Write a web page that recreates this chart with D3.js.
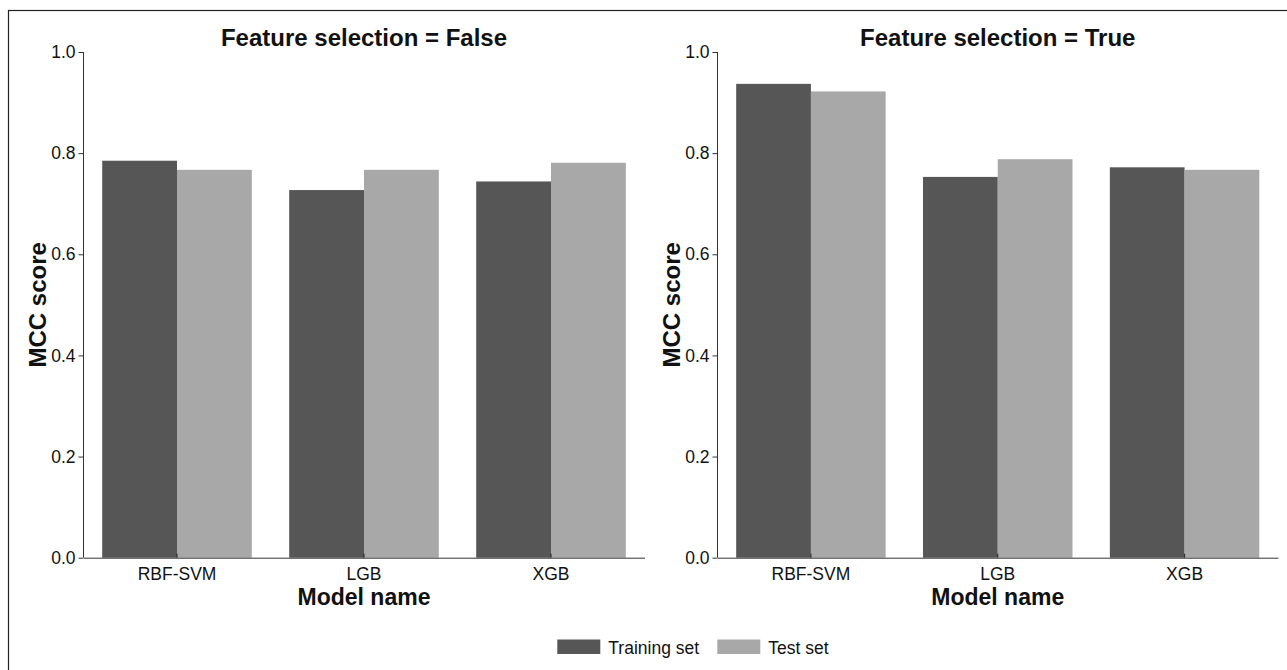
<!DOCTYPE html>
<html><head><meta charset="utf-8">
<script src="https://cdn.jsdelivr.net/npm/d3@7"></script>
<style>body{margin:0;background:#fff;} svg{display:block;} text{font-family:"Liberation Sans",Arial,sans-serif;}</style>
</head><body><svg id="c" width="1287" height="670"></svg>
<script>
const models = ["RBF-SVM", "LGB", "XGB"];
const seriesNames = ["Training set", "Test set"];
const seriesColors = ["#565656", "#a8a8a8"];
const panelTitles = ["Feature selection = False", "Feature selection = True"];
const trainFalse = [0.785, 0.727, 0.744];
const testFalse  = [0.767, 0.767, 0.781];
const trainTrue  = [0.937, 0.753, 0.772];
const testTrue   = [0.922, 0.788, 0.767];
const yTicks = [0.0, 0.2, 0.4, 0.6, 0.8, 1.0];

const panels = [
  {title: panelTitles[0], values: [trainFalse, testFalse], x0: 83.5, x1: 644.5},
  {title: panelTitles[1], values: [trainTrue, testTrue], x0: 717.5, x1: 1278}
];

const svg = d3.select("#c");
svg.append("rect").attr("x", 8.5).attr("y", 10.5).attr("width", 1300).attr("height", 700)
  .attr("fill", "none").attr("stroke", "#222").attr("stroke-width", 1.2);

const yTop = 52, yBot = 557.7;
const y = d3.scaleLinear().domain([0, 1]).range([yBot, yTop]);

panels.forEach(p => {
  const g = svg.append("g");
  const x = d3.scaleBand().domain(models).range([p.x0, p.x1]).paddingInner(0.2).paddingOuter(0.1);
  const xs = d3.scaleBand().domain(seriesNames).range([0, x.bandwidth()]);

  seriesNames.forEach((s, si) => {
    g.append("g").selectAll("rect").data(models).join("rect")
      .attr("x", d => x(d) + xs(s))
      .attr("y", (d, i) => y(p.values[si][i]))
      .attr("width", xs.bandwidth())
      .attr("height", (d, i) => y(0) - y(p.values[si][i]))
      .attr("fill", seriesColors[si]);
  });

  const ya = g.append("g").attr("transform", `translate(${p.x0},0)`)
    .call(d3.axisLeft(y).tickValues(yTicks).tickFormat(d3.format(".1f")).tickSize(5).tickPadding(3));
  ya.select(".domain").attr("stroke", "#333").attr("d", `M0,${yTop}V${yBot}`);
  ya.selectAll(".tick line").attr("stroke", "#333");
  ya.selectAll(".tick text").attr("font-size", 17.5).attr("fill", "#111")
    .attr("font-family", "Liberation Sans, Arial, sans-serif");

  const xa = g.append("g").attr("transform", `translate(0,${yBot})`)
    .call(d3.axisBottom(x).tickSize(-4).tickPadding(10).tickSizeOuter(0));
  xa.select(".domain").attr("stroke", "#333");
  xa.selectAll(".tick line").attr("stroke", "#222");
  xa.selectAll(".tick text").attr("font-size", 17.5).attr("fill", "#111")
    .attr("font-family", "Liberation Sans, Arial, sans-serif");

  const cx = (p.x0 + p.x1) / 2;
  g.append("text").attr("x", cx).attr("y", 45.5).attr("text-anchor", "middle")
    .attr("font-size", 24).attr("font-weight", "bold").attr("fill", "#111").text(p.title);
  g.append("text").attr("x", cx).attr("y", 604.5).attr("text-anchor", "middle")
    .attr("font-size", 23).attr("font-weight", "bold").attr("fill", "#111").text("Model name");
  g.append("text").attr("transform", `translate(${p.x0 - 38},${(yTop + yBot) / 2}) rotate(-90)`)
    .attr("text-anchor", "middle").attr("font-size", 24).attr("font-weight", "bold").attr("fill", "#111")
    .text("MCC score");
});

const legX = [557.3, 717.3];
const lg = svg.append("g");
seriesNames.forEach((s, i) => {
  lg.append("rect").attr("x", legX[i]).attr("y", 639.5).attr("width", 43).attr("height", 14.5)
    .attr("fill", seriesColors[i]);
  lg.append("text").attr("x", legX[i] + 51).attr("y", 653.5).attr("font-size", 17.5)
    .attr("fill", "#111").text(s);
});
</script></body></html>
